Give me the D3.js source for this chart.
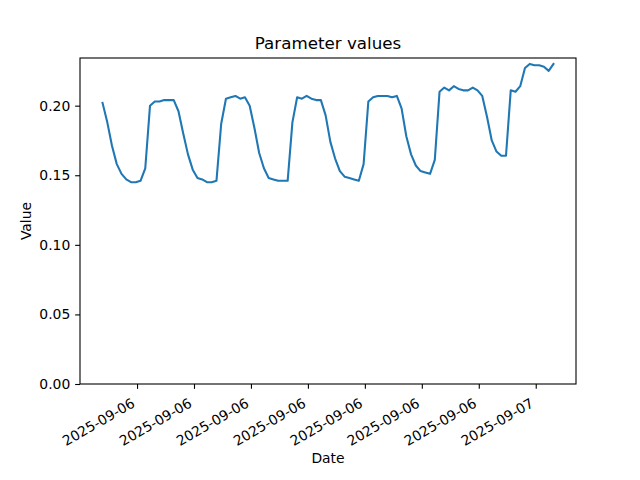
<!DOCTYPE html>
<html>
<head>
<meta charset="utf-8">
<script src="https://cdn.jsdelivr.net/npm/d3@7"></script>
<style>
  body { margin: 0; background: #fff; }
  svg { display: block; font-family: "DejaVu Sans", sans-serif; }
</style>
</head>
<body>
<svg id="chart" width="640" height="480"></svg>
<script>
// ---- data ----
const startTime = "2025-09-06T01:11:00Z";
const stepMinutes = 15;
const values = [
  0.202, 0.188, 0.171, 0.158, 0.151, 0.147, 0.145, 0.145, 0.146, 0.155,
  0.200, 0.203, 0.203, 0.204, 0.204, 0.204, 0.196, 0.180, 0.165, 0.154,
  0.148, 0.147, 0.145, 0.145, 0.146, 0.187, 0.205, 0.206, 0.207, 0.205,
  0.206, 0.200, 0.184, 0.166, 0.155, 0.148, 0.147, 0.146, 0.146, 0.146,
  0.188, 0.206, 0.205, 0.207, 0.205, 0.204, 0.204, 0.193, 0.174, 0.162,
  0.153, 0.149, 0.148, 0.147, 0.146, 0.158, 0.203, 0.206, 0.207, 0.207,
  0.207, 0.206, 0.207, 0.198, 0.178, 0.165, 0.157, 0.153, 0.152, 0.151,
  0.161, 0.210, 0.213, 0.211, 0.214, 0.212, 0.211, 0.211, 0.213, 0.211,
  0.207, 0.192, 0.175, 0.167, 0.164, 0.164, 0.211, 0.210, 0.214, 0.227,
  0.230, 0.229, 0.229, 0.228, 0.225, 0.230
];
const xTickTimes = [
  "2025-09-06T03:00:00Z", "2025-09-06T06:00:00Z", "2025-09-06T09:00:00Z",
  "2025-09-06T12:00:00Z", "2025-09-06T15:00:00Z", "2025-09-06T18:00:00Z",
  "2025-09-06T21:00:00Z", "2025-09-07T00:00:00Z"
];
const yTicks = [0, 0.05, 0.10, 0.15, 0.20];
const title = "Parameter values";
const xLabel = "Date";
const yLabel = "Value";

// ---- build ----
const t0 = new Date(startTime).getTime();
const data = values.map((v, i) => ({ t: new Date(t0 + i * stepMinutes * 60000), v }));

const svg = d3.select("#chart");
const L = 80, R = 576, T = 58, B = 384;
const tickFs = 13.9;

const tExt = d3.extent(data, d => d.t);
const span = tExt[1] - tExt[0];
const x = d3.scaleUtc()
  .domain([new Date(+tExt[0] - span * 0.05), new Date(+tExt[1] + span * 0.05)])
  .range([L, R]);
const vMax = d3.max(values), vMin = d3.min(values);
const y = d3.scaleLinear()
  .domain([0, vMax + 0.05 * (vMax - vMin)])
  .range([B, T]);

// line
svg.append("path")
  .datum(data)
  .attr("fill", "none")
  .attr("stroke", "#1f77b4")
  .attr("stroke-width", 2.08)
  .attr("stroke-linejoin", "round")
  .attr("stroke-linecap", "square")
  .attr("d", d3.line().x(d => x(d.t)).y(d => y(d.v)));

// x axis
const xAxis = svg.append("g")
  .attr("transform", `translate(0,${B})`)
  .call(d3.axisBottom(x).tickValues(xTickTimes.map(s => new Date(s)))
    .tickFormat(d3.utcFormat("%Y-%m-%d")).tickSizeOuter(0).tickSize(4.86));
xAxis.select(".domain").remove();
xAxis.selectAll(".tick line").attr("stroke", "#000").attr("stroke-width", 1.1);
xAxis.selectAll(".tick text")
  .attr("font-size", tickFs)
  .attr("fill", "#000")
  .attr("font-family", "DejaVu Sans")
  .attr("text-anchor", "end")
  .attr("dy", null)
  .attr("y", null)
  .attr("transform", "translate(-1.6,22) rotate(-30)");

// y axis
const yAxis = svg.append("g")
  .attr("transform", `translate(${L},0)`)
  .call(d3.axisLeft(y).tickValues(yTicks).tickFormat(d3.format(".2f")).tickSizeOuter(0).tickSize(4.86).tickPadding(4.86));
yAxis.select(".domain").remove();
yAxis.selectAll(".tick line").attr("stroke", "#000").attr("stroke-width", 1.1);
yAxis.selectAll(".tick text")
  .attr("font-size", tickFs)
  .attr("fill", "#000")
  .attr("font-family", "DejaVu Sans");

// spines
svg.append("rect")
  .attr("x", L).attr("y", T).attr("width", R - L).attr("height", B - T)
  .attr("fill", "none").attr("stroke", "#000").attr("stroke-width", 1.1);

// labels
svg.append("text")
  .attr("x", (L + R) / 2).attr("y", 49)
  .attr("text-anchor", "middle").attr("font-size", 16.7).attr("fill", "#000")
  .text(title);
svg.append("text")
  .attr("x", (L + R) / 2).attr("y", 463)
  .attr("text-anchor", "middle").attr("font-size", tickFs).attr("fill", "#000")
  .text(xLabel);
svg.append("text")
  .attr("transform", `translate(31,${(T + B) / 2}) rotate(-90)`)
  .attr("text-anchor", "middle").attr("font-size", tickFs).attr("fill", "#000")
  .text(yLabel);
</script>
</body>
</html>
